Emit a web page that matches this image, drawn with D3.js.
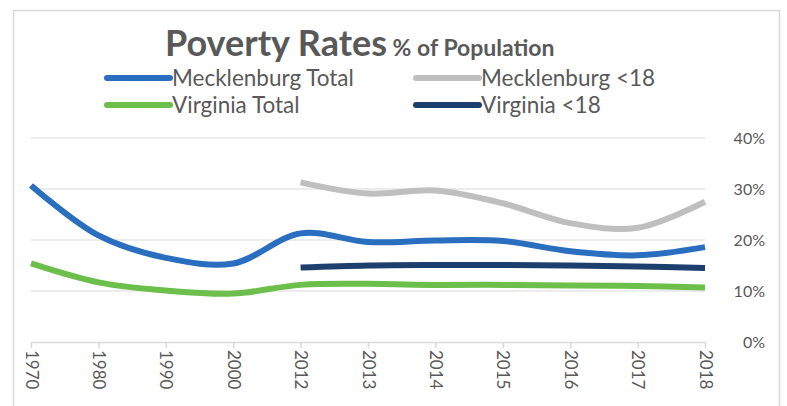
<!DOCTYPE html>
<html>
<head>
<meta charset="utf-8">
<script src="https://cdn.jsdelivr.net/npm/d3@7"></script>
<style>
  html, body { margin: 0; padding: 0; background: #fff; }
  svg { display: block; font-family: Lato, "Open Sans", sans-serif; }
</style>
</head>
<body>
<svg id="chart" width="787" height="406"></svg>
<script>
// Years along the x axis (decennial, then annual)
const years = ["1970", "1980", "1990", "2000", "2012", "2013", "2014", "2015", "2016", "2017", "2018"];

// Poverty rates, share of population (null = no data for that year)
const mecklenburgTotal = [0.307, 0.209, 0.165, 0.154, 0.213, 0.196, 0.199, 0.198, 0.178, 0.170, 0.186];
const mecklenburgUnder18 = [null, null, null, null, 0.313, 0.291, 0.297, 0.272, 0.233, 0.224, 0.275];
const virginiaTotal = [0.154, 0.117, 0.101, 0.095, 0.112, 0.114, 0.112, 0.112, 0.111, 0.110, 0.107];
const virginiaUnder18 = [null, null, null, null, 0.146, 0.150, 0.151, 0.151, 0.150, 0.148, 0.145];

const yTicks = [0, 0.1, 0.2, 0.3, 0.4];

const seriesNames = ["Mecklenburg Total", "Mecklenburg <18", "Virginia Total", "Virginia <18"];
const seriesColors = ["#2a6ebf", "#bfbfbf", "#6cbf4a", "#1d3f6e"];

const series = [
  { name: seriesNames[0], values: mecklenburgTotal, color: seriesColors[0] },
  { name: seriesNames[1], values: mecklenburgUnder18, color: seriesColors[1] },
  { name: seriesNames[2], values: virginiaTotal, color: seriesColors[2] },
  { name: seriesNames[3], values: virginiaUnder18, color: seriesColors[3] }
];

const svg = d3.select("#chart");
const textColor = "#595959";

// outer frame
svg.append("rect")
  .attr("x", 13.5).attr("y", 10.5)
  .attr("width", 766).attr("height", 400)
  .attr("fill", "#fff")
  .attr("stroke", "#d9d9d9").attr("stroke-width", 1.5);

const x = d3.scalePoint().domain(years).range([31, 705]);
const y = d3.scaleLinear().domain([0, 0.4]).range([342, 138]);

// horizontal gridlines
svg.append("g")
  .selectAll("line")
  .data(yTicks.filter(t => t > 0))
  .join("line")
  .attr("x1", 31).attr("x2", 705)
  .attr("y1", d => y(d)).attr("y2", d => y(d))
  .attr("stroke", "#d9d9d9").attr("stroke-width", 1.2);

// right-hand y axis labels
const yAxis = d3.axisRight(y)
  .tickValues(yTicks)
  .tickFormat(d3.format(".0%"))
  .tickSize(0)
  .tickPadding(0);
const gy = svg.append("g").attr("transform", "translate(765,0)").call(yAxis);
gy.select(".domain").remove();
gy.selectAll("text")
  .attr("text-anchor", "end")
  .attr("fill", textColor)
  .style("font-size", "16px")
  .style("font-family", "Lato, sans-serif");

// bottom x axis with rotated year labels
const xAxis = d3.axisBottom(x).tickSize(6).tickSizeOuter(0).tickPadding(0);
const gx = svg.append("g").attr("transform", "translate(0,342)").call(xAxis);
gx.select(".domain").attr("stroke", "#d9d9d9").attr("stroke-width", 1.5);
gx.selectAll(".tick line").attr("stroke", "#d9d9d9").attr("stroke-width", 1.5);
gx.selectAll("text")
  .attr("transform", "rotate(90)")
  .attr("x", 8).attr("y", 0).attr("dy", "0.35em")
  .attr("text-anchor", "start")
  .attr("fill", textColor)
  .style("font-size", "17px")
  .style("font-family", "Lato, sans-serif");

// series lines
const line = d3.line()
  .defined(d => d[1] != null)
  .x(d => x(d[0]))
  .y(d => y(d[1]))
  .curve(d3.curveCatmullRom.alpha(0.5));

const drawOrder = [1, 0, 3, 2];
svg.append("g")
  .selectAll("path")
  .data(drawOrder.map(i => series[i]))
  .join("path")
  .attr("d", s => line(years.map((yr, i) => [yr, s.values[i]])))
  .attr("fill", "none")
  .attr("stroke", s => s.color)
  .attr("stroke-width", 6)
  .attr("stroke-linejoin", "round");

// title
const title = svg.append("text")
  .attr("x", 165).attr("y", 56)
  .attr("fill", textColor)
  .style("font-weight", "bold");
title.append("tspan").text("Poverty Rates").style("font-size", "36px");
title.append("tspan").text(" % of Population").style("font-size", "23px");

// legend
const legendPos = [
  { lx: 107, ly: 78 },
  { lx: 416, ly: 78 },
  { lx: 107, ly: 105 },
  { lx: 416, ly: 105 }
];
const legend = svg.append("g")
  .selectAll("g")
  .data(series)
  .join("g")
  .attr("transform", (d, i) => `translate(${legendPos[i].lx},${legendPos[i].ly})`);
legend.append("line")
  .attr("x1", 0).attr("x2", 63)
  .attr("stroke", d => d.color)
  .attr("stroke-width", 6)
  .attr("stroke-linecap", "round");
legend.append("text")
  .attr("x", 65).attr("dy", "0.35em")
  .attr("fill", textColor)
  .style("font-size", "22.5px")
  .text(d => d.name);
</script>
</body>
</html>
